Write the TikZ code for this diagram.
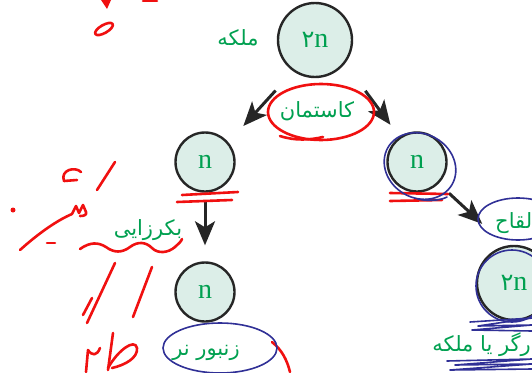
\documentclass[tikz,border=0pt]{standalone}
\usepackage{fontspec}
\setmainfont{Liberation Serif}
\newfontfamily\arabicfont[Script=Arabic]{DejaVu Sans}
\TeXXeTstate=1
\usetikzlibrary{positioning,arrows.meta}
\usepackage{xcolor}
\definecolor{cellfill}{RGB}{220,238,232}
\definecolor{labelgreen}{RGB}{0,160,80}
\definecolor{penred}{RGB}{240,16,16}
\definecolor{penblue}{RGB}{48,48,150}

\begin{document}
\begin{tikzpicture}[x=1pt, y=-1pt,
    cell/.style={circle, draw=black!85, line width=2.4pt, fill=cellfill, text=labelgreen, font=\fontsize{28}{28}\selectfont, inner sep=0pt, minimum size=59pt},
    bigcell/.style={cell, minimum size=74pt},
    falabel/.style={text=labelgreen, font=\arabicfont\fontsize{21}{24}\selectfont, inner sep=1pt},
    arr/.style={line width=3pt, black!85, -{Stealth[length=24pt,width=20pt,inset=6pt]}},
    redpen/.style={penred, line width=2.6pt, line cap=round, line join=round},
    bluepen/.style={penblue, line width=1.6pt, line cap=round, line join=round}]
    \useasboundingbox (0,0) rectangle (532,372);
    \clip (0,0) rectangle (532,372);

    \node[bigcell] (queen) at (315,40) {{\arabicfont\fontsize{24}{24}\selectfont ۲}n};
    \node[cell] (lcell) at (205,162) {n};
    \node[cell] (drone) at (205,292) {n};
    \node[cell] (rcell) at (417,162) {n};
    \node[bigcell] (worker) at (514,283) {{\arabicfont\fontsize{24}{24}\selectfont ۲}n};

    \node[falabel] (queenlbl) at (238,38) {\beginR ملکه\endR};
    \node[falabel] (caste) at (317,111) {\beginR کاستمان\endR};
    \node[falabel] (parth) at (148,230) {\beginR بکرزایی\endR};
    \node[falabel] (dronelbl) at (206,353) {\beginR زنبور نر\endR};
    \node[falabel, anchor=west] (fert) at (494,223) {\beginR لقاح\endR};
    \node[falabel, anchor=east] (workerlbl) at (532,345) {\beginR رگر یا ملکه\endR};

    \draw[arr, shorten <=26pt, shorten >=22pt] (queen.-125) -- (lcell.40);
    \draw[arr, shorten <=34pt, shorten >=15pt] (queen.-38) -- (rcell.125);
    \draw[arr, shorten <=9pt, shorten >=16pt] (lcell) -- (drone);
    \draw[arr, shorten <=14pt, shorten >=16pt] (rcell.-45) -- (fert.south west);

    \draw[redpen] (caste.center) ++(4,1) ellipse [x radius=53, y radius=28];
    \draw[redpen] (280,136) .. controls (295,141) and (310,140) .. (323,137);
    \draw[redpen] (182,195) -- (238,192);
    \draw[redpen] (177,202) -- (232,200);
    \draw[redpen] (390,193) -- (448,194);
    \draw[redpen] (390,201) -- (442,200);
    \draw[redpen] (80,249) .. controls (90,242) and (98,242) .. (106,247) .. controls (114,253) and (122,253) .. (130,247) .. controls (138,241) and (146,242) .. (152,248) .. controls (158,254) and (168,253) .. (175,247) .. controls (178,244) and (181,242) .. (182,239);
    \draw[redpen] (115,263) -- (87,323);
    \draw[redpen] (92,298) -- (83,315);
    \draw[redpen] (152,267) -- (133,317);
    \draw[redpen] (115,162) -- (97,190);
    \draw[redpen] (64,181) .. controls (60,170) and (75,166) .. (81,172);
    \draw[redpen] (64,181) -- (77,180);
    \fill[penred] (13,210) circle [radius=2.5];
    \draw[redpen] (20,250) .. controls (40,232) and (58,220) .. (72,214) -- (76,206) -- (79,213) -- (83,205) -- (86,212) .. controls (87,215) and (84,216) .. (80,216);
    \draw[redpen] (47,243) -- (55,243);
    \draw[redpen] (113,333) -- (108,370);
    \draw[redpen] (108,368) .. controls (118,350) and (135,338) .. (137,348) .. controls (138,358) and (125,365) .. (112,368);
    \draw[redpen] (86,372) -- (88,350) .. controls (92,356) and (97,356) .. (100,348);
    \fill[penred] (101,0) -- (111,0) -- (107,9) -- cycle;
    \draw[redpen, rotate around={30:(104,29)}] (104,29) ellipse [x radius=10, y radius=4];
    \draw[redpen] (143,1) -- (157,1);
    \draw[redpen] (272,342) .. controls (282,350) and (287,360) .. (290,372);

    \draw[bluepen] (220,348) ellipse [x radius=57, y radius=25];
    \draw[bluepen, rotate around={-30:(420,166)}] (420,166) ellipse [x radius=37, y radius=32];
    \draw[bluepen] (447,197) .. controls (440,201) and (425,201) .. (418,199);
    \draw[bluepen] (518,219) ellipse [x radius=40, y radius=21];
    \draw[bluepen] (512,286) circle [radius=36];
    \draw[bluepen] (470,322) -- (532,318) -- (478,326) -- (532,325) -- (472,330) -- (532,331);
    \draw[bluepen] (447,361) -- (532,359) -- (455,365) -- (532,364) -- (450,370) -- (532,369);
\end{tikzpicture}
\end{document}
